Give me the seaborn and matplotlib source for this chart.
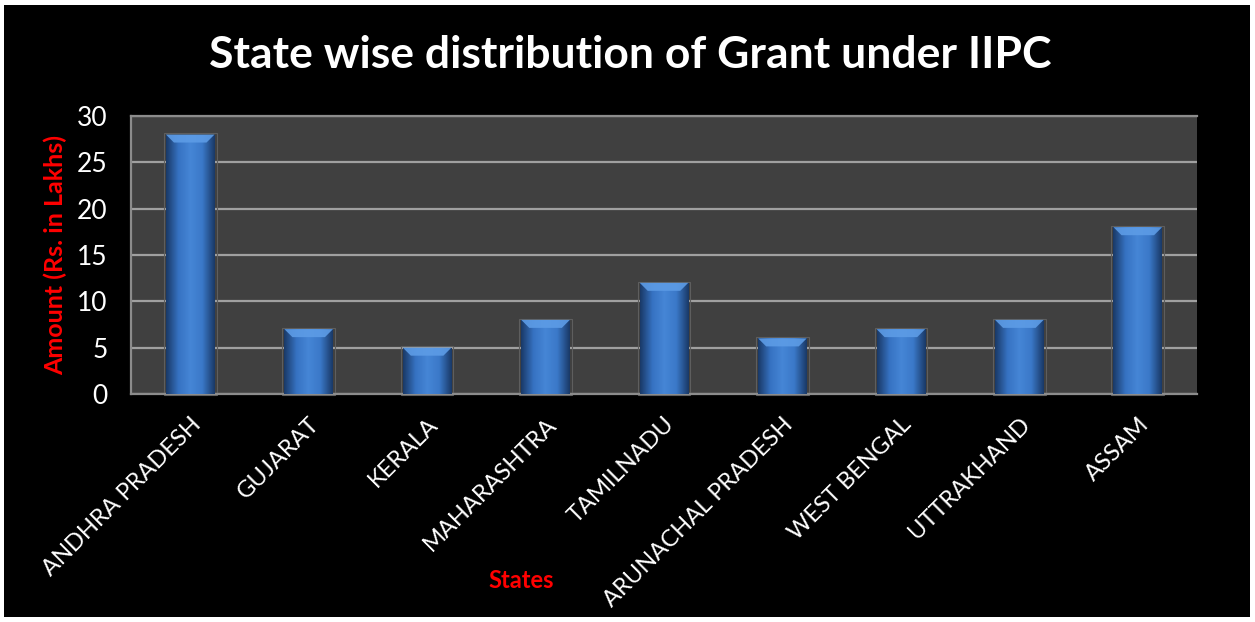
"""State wise distribution of Grant under IIPC - bar chart recreation."""

import matplotlib

matplotlib.use("Agg")
import matplotlib.pyplot as plt
import matplotlib.colors as mcolors
import numpy as np
import pandas as pd
import seaborn as sns
from matplotlib.patches import Rectangle, Polygon, FancyBboxPatch

states = [
    "ANDHRA PRADESH",
    "GUJARAT",
    "KERALA",
    "MAHARASHTRA",
    "TAMILNADU",
    "ARUNACHAL PRADESH",
    "WEST BENGAL",
    "UTTRAKHAND",
    "ASSAM",
]
amounts = [28, 7, 5, 8, 12, 6, 7, 8, 18]
y_ticks = [0, 5, 10, 15, 20, 25, 30]

sns.set_theme(style="dark")
plt.rcParams["font.family"] = ["Lato", "DejaVu Sans"]

df = pd.DataFrame({"state": states, "amount": amounts})

fig = plt.figure(figsize=(12.55, 6.22), dpi=100)
fig.patch.set_facecolor("white")
# black panel inside thin white frame
fig.add_artist(Rectangle((4 / 1255, 5 / 622), 1246 / 1255, 612 / 622,
                         transform=fig.transFigure, facecolor="black",
                         edgecolor="none", zorder=0))

ax = fig.add_axes([131 / 1255, 228 / 622, 1066 / 1255, 278 / 622])
ax.set_facecolor("#404040")

sns.barplot(data=df, x="state", y="amount", color="#3d7fd0", width=0.41,
            edgecolor="none", saturation=1, ax=ax, zorder=3)

ax.set_ylim(0, 30)
ax.set_yticks(y_ticks)
ax.set_xlim(-0.5, len(states) - 0.5)
ax.yaxis.grid(True, color="#a0a0a0", linewidth=1.6, zorder=1)
ax.xaxis.grid(False)
ax.spines["right"].set_visible(False)
for side in ["left", "bottom", "top"]:
    ax.spines[side].set_color("#8c8c8c")
    ax.spines[side].set_linewidth(1.6)

# shaded look for each bar: horizontal gradient plus a lighter bevel on top
cmap = mcolors.LinearSegmentedColormap.from_list(
    "bar", ["#1a3a68", "#3672c2", "#4686d6", "#3a78c8", "#1a3a68"])
grad = np.linspace(0, 1, 64).reshape(1, -1)
to_data = ax.transData.inverted()
for p in list(ax.patches):
    x0, y0 = p.get_x(), p.get_y()
    w, h = p.get_width(), p.get_height()
    im = ax.imshow(grad, cmap=cmap, aspect="auto",
                   extent=(x0, x0 + w, y0, y0 + h), zorder=4)
    im.set_clip_path(p)
    # bevel depth ~8 px converted to data units
    px0 = ax.transData.transform((x0, y0 + h))
    dx = to_data.transform(px0 + np.array([8, 0]))[0] - x0
    dy = (y0 + h) - to_data.transform(px0 - np.array([0, 8]))[1]
    top = y0 + h
    ax.add_patch(Polygon([(x0, top), (x0 + w, top), (x0 + w - dx, top - dy),
                          (x0 + dx, top - dy)], closed=True,
                         facecolor="#5d9ce6", edgecolor="none", alpha=0.9,
                         zorder=5))
    # faint outline around bar
    ax.add_patch(Rectangle((x0 - dx * 0.25, y0 - dy * 0.15),
                           w + 0.5 * dx, h + dy * 0.3,
                           facecolor="none", edgecolor="#5e5e5e",
                           linewidth=0.8, zorder=2, clip_on=False))

ax.set_xlim(-0.5, len(states) - 0.5)
ax.set_ylim(0, 30)

ax.tick_params(axis="y", colors="white", labelsize=19, length=0, pad=17)
ax.tick_params(axis="x", colors="white", labelsize=17, length=0, pad=14)
plt.setp(ax.get_xticklabels(), rotation=45, ha="right", rotation_mode="anchor")

ax.set_xlabel("States", color="red", fontsize=17, fontweight="bold", labelpad=0)
ax.xaxis.set_label_coords(0.366, -0.63)
ax.set_ylabel("Amount (Rs. in Lakhs)", color="red", fontsize=18,
              fontweight="bold")
ax.yaxis.set_label_coords(-0.060, 0.5)

fig.text(0.502, 0.912, "State wise distribution of Grant under IIPC",
         color="white", fontsize=32, fontweight="bold", ha="center",
         va="center")

fig.savefig("out.png", dpi=100, facecolor=fig.get_facecolor())
